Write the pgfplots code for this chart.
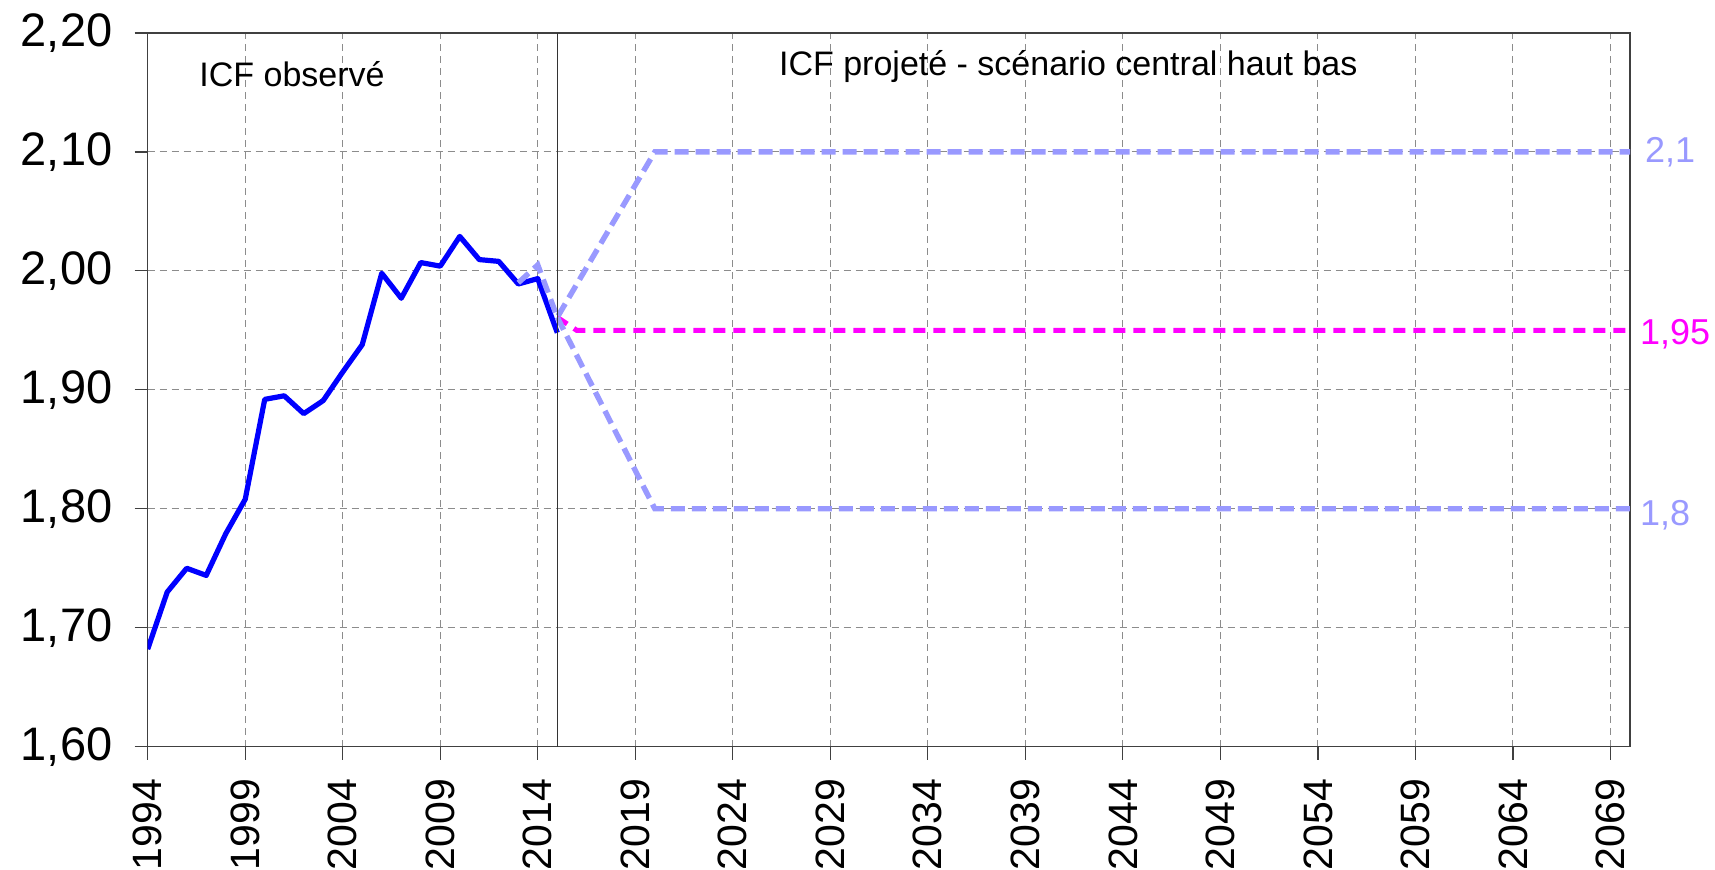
\documentclass[border=0pt]{standalone}
\usepackage{fontspec}
\setmainfont{Liberation Sans}
\usepackage{pgfplots}
\pgfplotsset{compat=1.18}
\definecolor{obsblue}{RGB}{0,0,255}
\definecolor{projblue}{RGB}{153,153,255}
\definecolor{centralc}{RGB}{255,0,255}
\definecolor{gridc}{RGB}{140,140,140}
\begin{document}
\begin{tikzpicture}
\begin{axis}[
  at={(0,0)}, anchor=south west,
  scale only axis, width=741.15pt, height=356.85pt,
  xmin=1994, xmax=2070, ymin=1.6, ymax=2.2,
  xtick={1994,1999,2004,2009,2014,2019,2024,2029,2034,2039,2044,2049,2054,2059,2064,2069},
  ytick={1.6,1.7,1.8,1.9,2.0,2.1,2.2},
  xtick pos=bottom, ytick pos=left,
  tick align=outside, major tick length=6.5pt,
  tick style={black!75, line width=0.6pt},
  axis line style={black!75, line width=0.6pt},
  grid=major,
  grid style={gridc, dash pattern=on 3.5pt off 2.5pt, line width=0.5pt},
  /pgf/number format/assume math mode=true,
  xticklabel shift=9.5pt,
  xticklabel style={font=\fontsize{20.5}{24}\selectfont, rotate=90, anchor=east, inner sep=0pt, /pgf/number format/1000 sep={}},
  yticklabel style={font=\fontsize{23.5}{27}\selectfont, inner sep=0pt, xshift=-11pt, /pgf/number format/.cd, fixed, fixed zerofill, precision=2, use comma},
]
% observed
\addplot[obsblue, line width=2.6pt, line join=round] coordinates {
(1994,1.682)(1995,1.730)(1996,1.750)(1997,1.744)(1998,1.779)(1999,1.808)
(2000,1.892)(2001,1.895)(2002,1.880)(2003,1.891)(2004,1.915)(2005,1.938)
(2006,1.998)(2007,1.977)(2008,2.007)(2009,2.004)(2010,2.029)(2011,2.0095)
(2012,2.008)(2013,1.989)(2014,1.9935)(2015,1.948)};
% central
\addplot[centralc, line width=2.5pt, dash pattern=on 6pt off 4pt] coordinates {
(2015,1.961)(2016,1.95)(2070,1.95)};
% high
\addplot[projblue, line width=2.7pt, dash pattern=on 7pt off 3.5pt] coordinates {
(2013,1.990)(2014,2.005)(2015,1.961)(2020,2.10)(2070,2.10)};
% low
\addplot[projblue, line width=2.7pt, dash pattern=on 7pt off 3.5pt] coordinates {
(2015,1.961)(2020,1.80)(2070,1.80)};
% separation line
\addplot[black!80, line width=0.75pt] coordinates {(2015,1.6)(2015,2.2)};
\node[anchor=base, font=\fontsize{17}{20}\selectfont] at (axis cs:2001.4,2.155) {ICF observé};
\node[anchor=base, font=\fontsize{17}{20}\selectfont] at (axis cs:2041.2,2.164) {ICF projeté - scénario central haut bas};
\end{axis}
\node[anchor=west, inner sep=0pt, font=\fontsize{18}{20}\selectfont, text=projblue] at (748.5pt,{356.85pt*(2.1-1.6)/0.6}) {2,1};
\node[anchor=west, inner sep=0pt, font=\fontsize{18}{20}\selectfont, text=centralc] at (746pt,{356.85pt*(1.95-1.6)/0.6-2pt}) {1,95};
\node[anchor=west, inner sep=0pt, font=\fontsize{18}{20}\selectfont, text=projblue] at (746pt,{356.85pt*(1.8-1.6)/0.6-3pt}) {1,8};
\pgfresetboundingbox
\path[use as bounding box] (-73.85pt,-61.65pt) rectangle (783.65pt,373.35pt);
\end{tikzpicture}
\end{document}
